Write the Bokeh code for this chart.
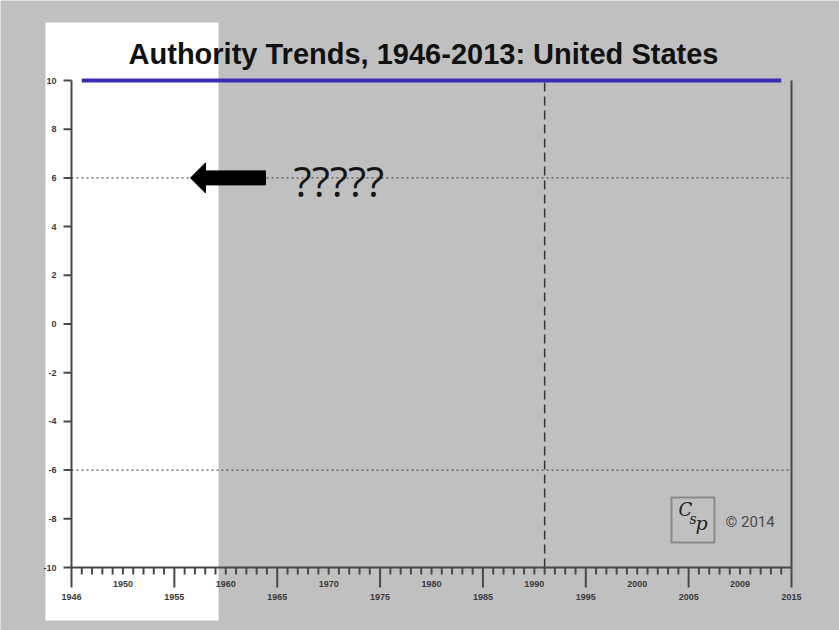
from bokeh.plotting import figure
from bokeh.models import Range1d
from bokeh.core.properties import value
from bokeh.embed import file_html
from bokeh.resources import INLINE

# ---- data -------------------------------------------------------------
TITLE = "Authority Trends, 1946-2013: United States"
SERIES_YEARS = [1946, 2014]
SERIES_SCORES = [10, 10]
REFERENCE_LEVELS = [6, -6]          # dotted threshold lines
EVENT_YEAR = 1991                   # dashed marker line

Y_TICKS = [10, 8, 6, 4, 2, 0, -2, -4, -6, -8, -10]
Y_TICK_LABELS = ["10", "8", "6", "4", "2", "0", "-2", "-4", "-6", "-8", "-10"]

X_TICKS_UPPER = [1950, 1960, 1970, 1980, 1990, 2000, 2010]
X_LABELS_UPPER = ["1950", "1960", "1970", "1980", "1990", "2000", "2009"]
X_TICKS_LOWER = [1945, 1955, 1965, 1975, 1985, 1995, 2005, 2015]
X_LABELS_LOWER = ["1946", "1955", "1965", "1975", "1985", "1995", "2005", "2015"]
X_MINOR_TICKS = [y for y in range(1946, 2015) if y % 5 != 0]

X_MIN, X_MAX = 1945, 2015
Y_MIN, Y_MAX = -10, 10

# ---- canvas geometry ----------------------------------------------------
W, H = 839, 630
FRAME_LEFT, FRAME_RIGHT = 71, 791     # pixel columns of X_MIN / X_MAX
FRAME_TOP, FRAME_BOTTOM = 80, 567     # pixel rows of Y_MAX / Y_MIN

GRAY = "#c0c0c0"
AXIS = "#484848"
LABEL = "#3a3a3a"


def px_x(px):
    return X_MIN + (px - FRAME_LEFT) * (X_MAX - X_MIN) / (FRAME_RIGHT - FRAME_LEFT)


def px_y(py):
    return Y_MAX - (py - FRAME_TOP) * (Y_MAX - Y_MIN) / (FRAME_BOTTOM - FRAME_TOP)


def dx(px):
    return px * (X_MAX - X_MIN) / (FRAME_RIGHT - FRAME_LEFT)


def dy(px):
    return px * (Y_MAX - Y_MIN) / (FRAME_BOTTOM - FRAME_TOP)


p = figure(
    width=W, height=H,
    x_range=Range1d(px_x(0), px_x(W)),
    y_range=Range1d(px_y(H), px_y(0)),
    x_axis_location=None, y_axis_location=None,
    output_backend="svg", toolbar_location=None,
    min_border=0, min_border_left=0, min_border_right=0,
    min_border_top=0, min_border_bottom=0,
)
p.grid.visible = False
p.outline_line_color = None
p.background_fill_color = GRAY
p.border_fill_color = GRAY

# highlighted early period panel
p.quad(left=px_x(45), right=px_x(218), top=px_y(22), bottom=px_y(620),
       fill_color="white", line_color=None)

# title
p.text(x=[px_x(423)], y=[px_y(53)], text=[TITLE],
       text_font=value("Liberation Sans"), text_font_style="bold",
       text_font_size="29px", text_color="#111111",
       text_align="center", text_baseline="middle")

# threshold lines
for lvl in REFERENCE_LEVELS:
    p.line(x=[X_MIN, X_MAX], y=[lvl, lvl], line_color="#555555",
           line_width=1.2, line_dash="2 3")

# event marker
p.line(x=[EVENT_YEAR, EVENT_YEAR], y=[Y_MIN, Y_MAX], line_color="#333333",
       line_width=1.5, line_dash="9 5")

# axis lines (left and right edges run down into the long end ticks)
p.line(x=[X_MIN, X_MIN], y=[Y_MAX, Y_MIN - dy(20)], line_color=AXIS, line_width=2)
p.line(x=[X_MAX, X_MAX], y=[Y_MAX, Y_MIN - dy(20)], line_color=AXIS, line_width=2)
p.line(x=[X_MIN, X_MAX], y=[Y_MIN, Y_MIN], line_color=AXIS, line_width=2)

# y ticks and labels
p.segment(x0=[X_MIN] * len(Y_TICKS), x1=[X_MIN - dx(8)] * len(Y_TICKS),
          y0=Y_TICKS, y1=Y_TICKS, line_color=AXIS, line_width=2)
p.text(x=[X_MIN - dx(15)] * len(Y_TICKS), y=Y_TICKS, text=Y_TICK_LABELS,
       text_font=value("Liberation Sans"), text_font_style="bold",
       text_font_size="9px", text_color=LABEL,
       text_align="right", text_baseline="middle")

# x ticks
short_ticks = X_MINOR_TICKS + X_TICKS_UPPER
p.segment(x0=short_ticks, x1=short_ticks,
          y0=[Y_MIN] * len(short_ticks), y1=[Y_MIN - dy(7)] * len(short_ticks),
          line_color=AXIS, line_width=2)
inner_long = X_TICKS_LOWER[1:-1]
p.segment(x0=inner_long, x1=inner_long,
          y0=[Y_MIN] * len(inner_long), y1=[Y_MIN - dy(20)] * len(inner_long),
          line_color=AXIS, line_width=2)

p.text(x=X_TICKS_UPPER, y=[Y_MIN - dy(16)] * len(X_TICKS_UPPER), text=X_LABELS_UPPER,
       text_font=value("Liberation Sans"), text_font_style="bold",
       text_font_size="9px", text_color=LABEL,
       text_align="center", text_baseline="middle")
p.text(x=X_TICKS_LOWER, y=[Y_MIN - dy(29)] * len(X_TICKS_LOWER), text=X_LABELS_LOWER,
       text_font=value("Liberation Sans"), text_font_style="bold",
       text_font_size="9px", text_color=LABEL,
       text_align="center", text_baseline="middle")

# authority score series
p.line(x=SERIES_YEARS, y=SERIES_SCORES, line_color="#3a2db3", line_width=4)

# pointer arrow at the upper threshold
tip_x, tip_y = px_x(190), REFERENCE_LEVELS[0]
head_x = tip_x + dx(15)
tail_x = tip_x + dx(75)
p.patch(x=[tip_x, head_x, head_x, tail_x, tail_x, head_x, head_x],
        y=[tip_y, tip_y + dy(15), tip_y + dy(7), tip_y + dy(7),
           tip_y - dy(7), tip_y - dy(7), tip_y - dy(15)],
        fill_color="black", line_color="black", line_width=1)
p.text(x=[px_x(293)], y=[px_y(180)], text=["?????"],
       text_font=value("Open Sans"), text_font_size="42px",
       text_color="#151515", text_align="left", text_baseline="middle")

# CSP mark and copyright
p.quad(left=px_x(671), right=px_x(714), top=px_y(497), bottom=px_y(542),
       fill_color=None, line_color="#8a8a8a", line_width=2)
p.text(x=[px_x(678)], y=[px_y(509)], text=["C"],
       text_font=value("DejaVu Serif"), text_font_style="italic",
       text_font_size="18px", text_color="#222222",
       text_align="left", text_baseline="middle")
p.text(x=[px_x(689)], y=[px_y(518)], text=["s"],
       text_font=value("DejaVu Serif"), text_font_style="italic",
       text_font_size="14px", text_color="#222222",
       text_align="left", text_baseline="middle")
p.text(x=[px_x(695)], y=[px_y(522)], text=["p"],
       text_font=value("DejaVu Serif"), text_font_style="italic",
       text_font_size="19px", text_color="#222222",
       text_align="left", text_baseline="middle")
p.text(x=[px_x(725)], y=[px_y(521)], text=["\u00a9 2014"],
       text_font=value("Roboto"), text_font_size="15px", text_color="#4a4a4a",
       text_align="left", text_baseline="middle")

open("out.html", "w").write(file_html(p, INLINE))
